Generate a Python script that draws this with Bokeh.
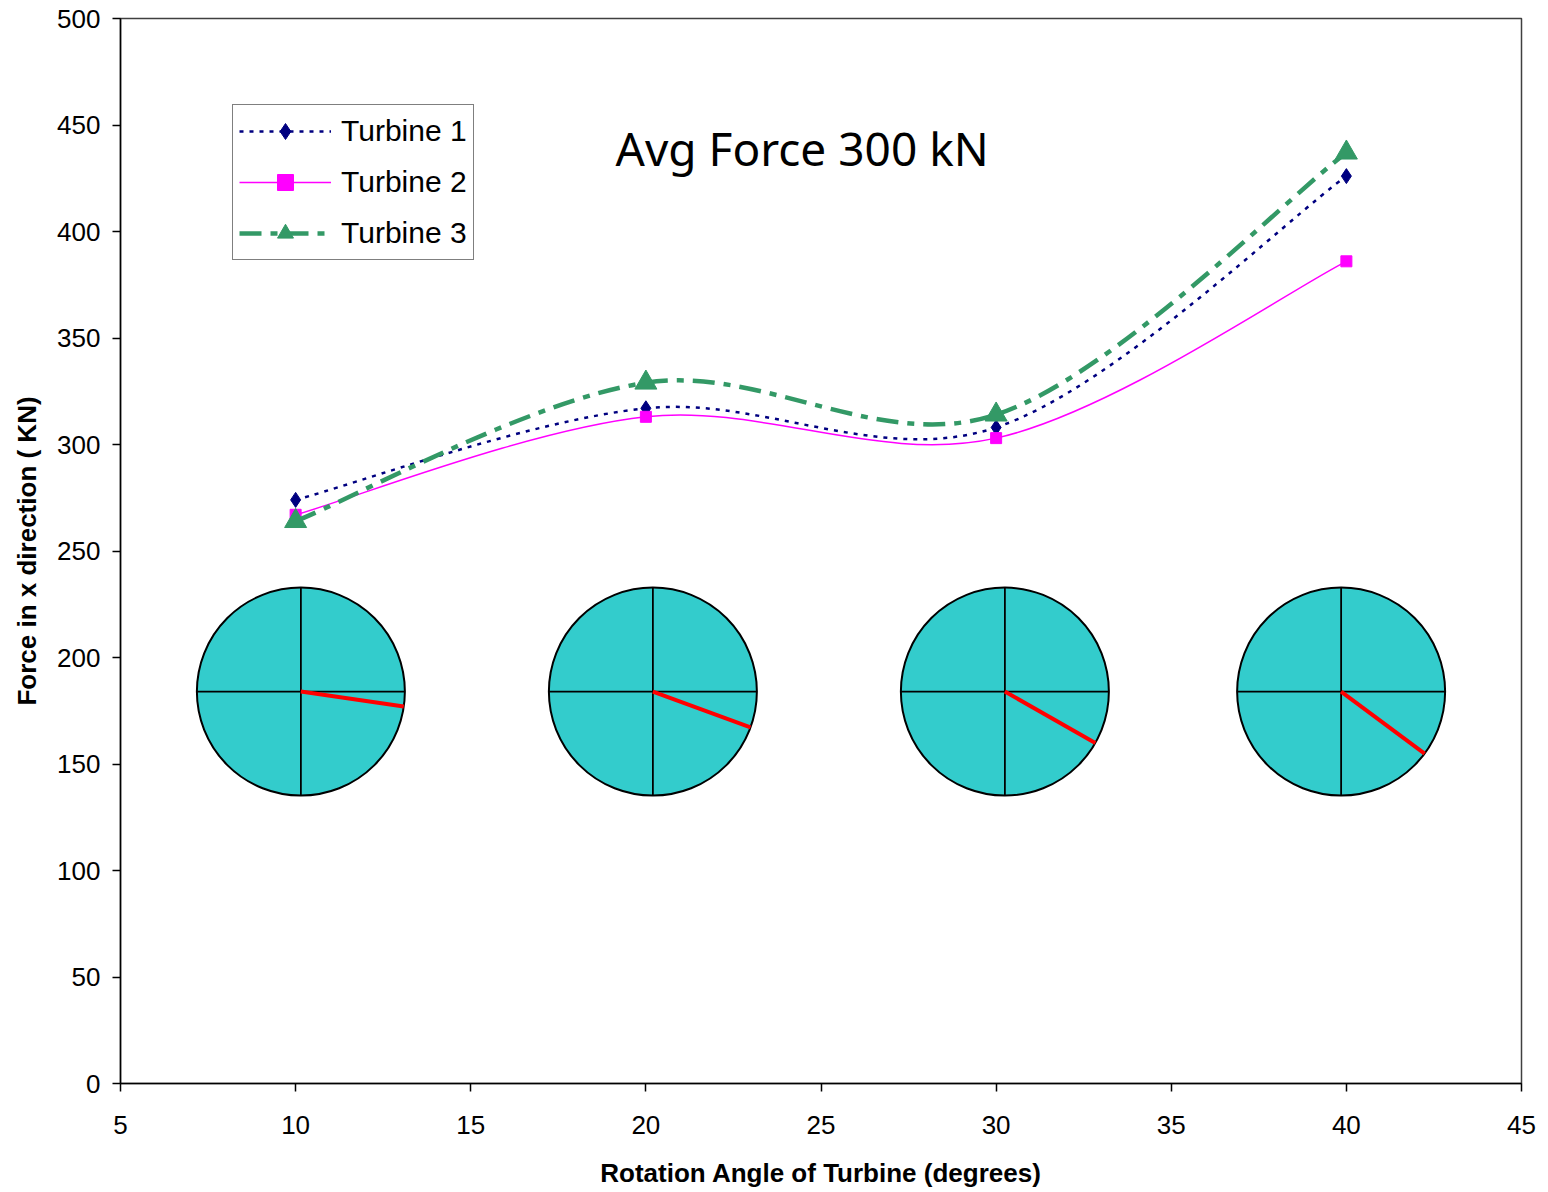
import numpy as np
from bokeh.plotting import figure
from bokeh.models import Legend, LegendItem, Label, FixedTicker, Range1d
from bokeh.embed import file_html
from bokeh.resources import INLINE

# ---------------- data ----------------
angles = [10, 20, 30, 40]
turbine1 = [274, 317, 308, 426]
turbine2 = [267, 313, 303, 386]
turbine3 = [264, 329, 314, 437]
series_names = ["Turbine 1", "Turbine 2", "Turbine 3"]
x_ticks = [5, 10, 15, 20, 25, 30, 35, 40, 45]
y_ticks = [0, 50, 100, 150, 200, 250, 300, 350, 400, 450, 500]
title_text = "Avg Force 300 kN"

# turbine disk illustrations (rotor sketches)
disk_x = [10.15, 20.2, 30.25, 39.85]
disk_y = [184, 184, 184, 184]
blade_deg = [-8.3, -20.2, -29.6, -36.6]

FONT = "Liberation Sans"


def smooth_segments(xs, ys):
    """Cubic Bezier control points (Excel-like smoothed line)."""
    x = np.asarray(xs, float)
    y = np.asarray(ys, float)
    n = len(x)
    xp = np.concatenate([[x[0]], x, [x[-1]]])
    yp = np.concatenate([[y[0]], y, [y[-1]]])
    cx0 = x[:-1] + (xp[2:n + 1] - xp[0:n - 1]) / 6.0
    cy0 = y[:-1] + (yp[2:n + 1] - yp[0:n - 1]) / 6.0
    cx1 = x[1:] - (xp[3:n + 2] - xp[1:n]) / 6.0
    cy1 = y[1:] - (yp[3:n + 2] - yp[1:n]) / 6.0
    return dict(x0=x[:-1], y0=y[:-1], x1=x[1:], y1=y[1:],
                cx0=cx0, cy0=cy0, cx1=cx1, cy1=cy1)


p = figure(width=1540, height=1190, output_backend="svg", toolbar_location=None,
           x_range=Range1d(5, 45), y_range=Range1d(0, 500),
           min_border_left=120, min_border_right=19, min_border_top=18,
           min_border_bottom=107)
p.xgrid.visible = False
p.ygrid.visible = False
p.outline_line_color = "#404040"
p.outline_line_width = 1.5
p.background_fill_color = "white"

# ---------------- disks ----------------
p.scatter(disk_x, disk_y, marker="circle", size=208, fill_color="#33CCCC",
          line_color="black", line_width=2)
for a in [0, 90, 180, 270]:
    p.ray(disk_x, disk_y, length=104, length_units="screen", angle=a,
          angle_units="deg", line_color="black", line_width=1.8)
p.ray(disk_x, disk_y, length=104, length_units="screen", angle=blade_deg,
      angle_units="deg", line_color="red", line_width=4)

# ---------------- series ----------------
styles = [
    dict(color="#000080", width=2.5, dash="4 6", marker="diamond", msize=15),
    dict(color="#FF00FF", width=1.5, dash="solid", marker="square", msize=11),
    dict(color="#339966", width=4.5, dash="22 9 7 9", marker="triangle", msize=22),
]
items = []
for name, vals, st in zip(series_names, [turbine1, turbine2, turbine3], styles):
    seg = smooth_segments(angles, vals)
    p.bezier(x0=seg["x0"], y0=seg["y0"], x1=seg["x1"], y1=seg["y1"],
             cx0=seg["cx0"], cy0=seg["cy0"], cx1=seg["cx1"], cy1=seg["cy1"],
             line_color=st["color"], line_width=st["width"], line_dash=st["dash"])
    dummy = p.line(x=[np.nan], y=[np.nan], line_color=st["color"],
                   line_width=st["width"], line_dash=st["dash"])
    mk = p.scatter(angles, vals, marker=st["marker"], size=st["msize"],
                   fill_color=st["color"], line_color=st["color"])
    items.append(LegendItem(label=name, renderers=[dummy, mk]))

legend = Legend(items=items, location=(112, 823), orientation="vertical",
                label_text_font=FONT, label_text_font_size="30px",
                label_text_color="black",
                glyph_width=92, glyph_height=40, label_height=40,
                label_standoff=10, spacing=11, padding=6, margin=0,
                border_line_color="black", border_line_width=1,
                background_fill_alpha=1.0)
p.add_layout(legend, "center")

# ---------------- title text ----------------
p.add_layout(Label(x=495, y=936, x_units="screen", y_units="screen",
                   text=title_text, text_font="Noto Sans",
                   text_font_size="46px", text_color="black",
                   text_baseline="alphabetic"))

# ---------------- axes ----------------
p.xaxis.ticker = FixedTicker(ticks=x_ticks)
p.yaxis.ticker = FixedTicker(ticks=y_ticks)
for ax in (p.xaxis[0], p.yaxis[0]):
    ax.major_label_text_font = FONT
    ax.major_label_text_font_size = "26px"
    ax.major_label_text_color = "black"
    ax.axis_label_text_font = FONT
    ax.axis_label_text_font_size = "26px"
    ax.axis_label_text_font_style = "bold"
    ax.axis_label_text_color = "black"
    ax.axis_line_color = "black"
    ax.axis_line_width = 1.5
    ax.major_tick_line_color = "black"
    ax.major_tick_line_width = 1.5
    ax.major_tick_in = 0
    ax.major_tick_out = 8
    ax.minor_tick_line_color = None
p.xaxis.axis_label = "Rotation Angle of Turbine (degrees)"
p.yaxis.axis_label = "Force in x direction ( KN)"
p.xaxis.major_label_standoff = 24
p.yaxis.major_label_standoff = 12
p.xaxis.axis_label_standoff = 21
p.yaxis.axis_label_standoff = 12

open("out.html", "w").write(file_html(p, INLINE))
